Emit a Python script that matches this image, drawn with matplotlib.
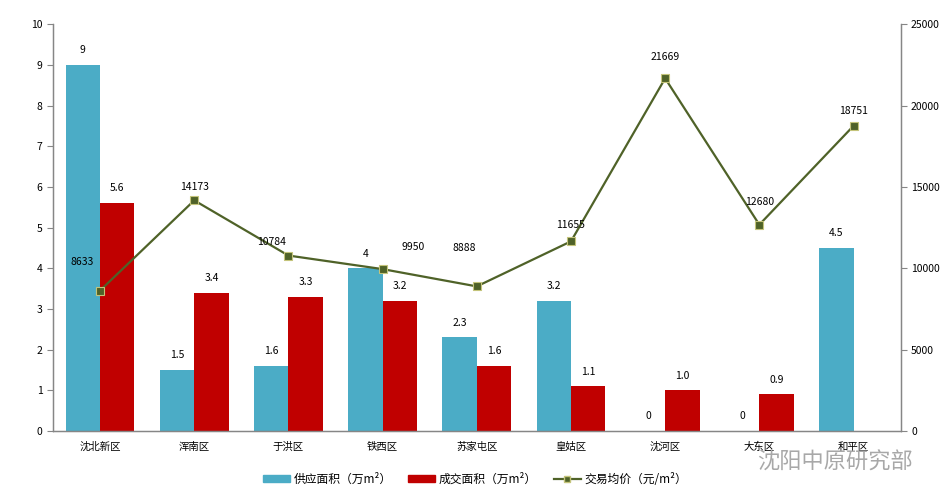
import numpy as np
import matplotlib.pyplot as plt
from matplotlib.patches import Patch
from matplotlib.lines import Line2D

plt.rcParams['font.family'] = ['Noto Sans CJK SC', 'DejaVu Sans']

districts = ['沈北新区', '浑南区', '于洪区', '铁西区', '苏家屯区', '皇姑区', '沈河区', '大东区', '和平区']
supply = [9, 1.5, 1.6, 4, 2.3, 3.2, 0, 0, 4.5]
deal = [5.6, 3.4, 3.3, 3.2, 1.6, 1.1, 1.0, 0.9, None]
price = [8633, 14173, 10784, 9950, 8888, 11655, 21669, 12680, 18751]

supply_labels = ['9', '1.5', '1.6', '4', '2.3', '3.2', '0', '0', '4.5']
deal_labels = ['5.6', '3.4', '3.3', '3.2', '1.6', '1.1', '1.0', '0.9', '']

# label offsets for the price line (points)
price_off = [(-13, 17), (0, 6), (-12, 6), (22, 12), (-9, 24), (0, 8), (0, 12), (0, 13), (0, 7)]

blue = '#4bacc6'
red = '#c00000'
green = '#4f6228'
axis_col = '#868686'

fig = plt.figure(figsize=(9.46, 5.03), dpi=100)
ax = fig.add_axes([0.056, 0.143, 0.896, 0.809])
ax2 = ax.twinx()

x = np.arange(len(districts))
w = 0.365
sv = [v if v is not None else 0 for v in supply]
dv = [v if v is not None else 0 for v in deal]
ax.bar(x - w / 2, sv, w, color=blue, zorder=2)
ax.bar(x + w / 2, dv, w, color=red, zorder=2)

for i in range(len(x)):
    ax.annotate(supply_labels[i], (x[i] - w / 2, sv[i]), xytext=(0, 7), textcoords='offset points',
                ha='center', va='bottom', fontsize=7.5)
    if deal_labels[i]:
        ax.annotate(deal_labels[i], (x[i] + w / 2, dv[i]), xytext=(0, 7), textcoords='offset points',
                    ha='center', va='bottom', fontsize=7.5)

ax2.plot(x, price, color=green, lw=1.6, marker='s', ms=5.5, mfc=green, mec='#c4c47a', mew=0.8, zorder=3)
for i in range(len(x)):
    ax2.annotate(str(price[i]), (x[i], price[i]), xytext=price_off[i], textcoords='offset points',
                 ha='center', va='bottom', fontsize=7.5)

ax.set_xlim(-0.5, len(x) - 0.5)
ax.set_ylim(0, 10)
ax.set_yticks(range(0, 11))
ax2.set_ylim(0, 25000)
ax2.set_yticks(range(0, 25001, 5000))
ax.set_xticks(x)
ax.set_xticklabels(districts, fontsize=7.5)
ax.tick_params(axis='x', length=0, pad=8)
ax.tick_params(axis='y', labelsize=7.5, color=axis_col, length=4)
ax2.tick_params(axis='y', labelsize=7.5, color=axis_col, length=4)

for a in (ax, ax2):
    a.spines['top'].set_visible(False)
    for s in ('left', 'right', 'bottom'):
        a.spines[s].set_color(axis_col)
        a.spines[s].set_linewidth(0.9)

handles = [Patch(color=blue, label='供应面积（万m²）'),
           Patch(color=red, label='成交面积（万m²）'),
           Line2D([0], [0], color=green, lw=1.6, marker='s', ms=4.5, mfc=green, mec='#c4c47a',
                  label='交易均价（元/m²）')]
fig.legend(handles=handles, loc='center', bbox_to_anchor=(0.502, 0.047), ncol=3, frameon=False,
           fontsize=8.5, handlelength=2.3, handleheight=0.6, columnspacing=1.4, handletextpad=0.3)

fig.text(0.965, 0.081, '沈阳中原研究部', fontsize=16, color='#a8a8a8', ha='right', va='center')

fig.savefig('out.png', dpi=100)
